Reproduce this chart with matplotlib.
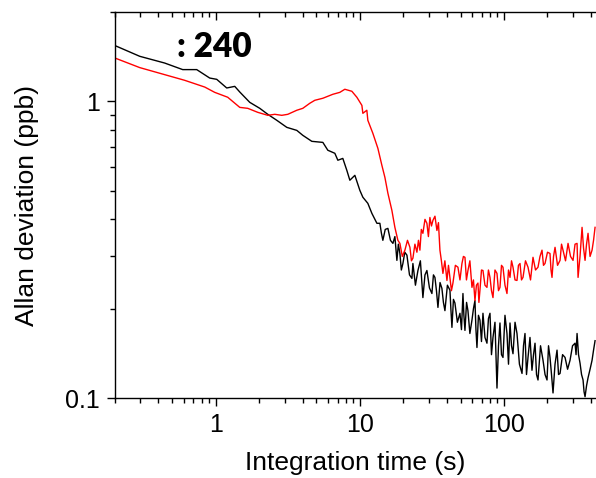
import matplotlib
matplotlib.use("Agg")
import matplotlib.pyplot as plt
from matplotlib.ticker import LogLocator, NullFormatter, FixedLocator, FixedFormatter

plt.rcParams['font.family'] = ['Liberation Sans', 'DejaVu Sans']

# Allan deviation, black trace (tau in s, adev in ppb)
tau_black = [0.2, 0.297, 0.442, 0.590, 0.738, 0.908, 1.016, 1.192, 1.355, 1.468,
             1.722, 2.021, 2.297, 2.652, 3.112, 3.652, 4.019, 4.642, 5.536, 5.995,
             6.706, 7.035, 7.617, 8.123, 8.522, 9.233, 10.0, 10.49, 11.36, 12.12,
             13.13, 13.77, 14.1, 14.44, 15.0, 15.65, 16.3, 16.96, 17.5, 18.07,
             18.5, 18.96, 19.4, 19.89, 20.5, 21.21, 22.1, 22.97, 23.34, 24.3,
             25.29, 26.3, 27.38, 28.3, 29.19, 30.4, 31.62, 32.4, 33.18, 34.0,
             34.82, 36.0, 37.10, 38.0, 38.93, 40.5, 42.17, 42.8, 43.54, 44.6,
             45.67, 47.5, 49.49, 50.7, 51.92, 52.7, 53.61, 55.0, 56.23, 58.0,
             59.95, 61.4, 62.89, 63.9, 64.94, 66.5, 68.13, 69.8, 71.48, 73.8,
             76.19, 78.0, 79.96, 81.9, 83.89, 86.6, 89.42, 91.6, 93.80, 96.1,
             98.42, 101.6, 104.9, 107.5, 110.1, 112.8, 115.5, 119.3, 123.1, 128.0,
             133.4, 136.6, 139.9, 143.3, 146.8, 151.5, 156.4, 160.3, 164.2, 168.2,
             172.2, 179.3, 186.6, 192.7, 198.9, 203.7, 208.6, 213.7, 218.9, 226.0,
             233.4, 239.1, 244.9, 255.0, 265.3, 276.2, 287.3, 299.0, 311.3, 316.3,
             321.4, 329.0, 337.1, 345.3, 353.7, 359.4, 365.2, 374.0, 383.1, 395.6,
             408.4, 418.3, 428.5]
adev_black = [1.541, 1.418, 1.346, 1.279, 1.279, 1.198, 1.186, 1.109, 1.123, 1.075,
              0.992, 0.947, 0.904, 0.863, 0.817, 0.798, 0.768, 0.733, 0.727, 0.684,
              0.668, 0.633, 0.642, 0.585, 0.542, 0.563, 0.501, 0.475, 0.453, 0.419,
              0.388, 0.388, 0.36, 0.340, 0.37, 0.373, 0.34, 0.332, 0.35, 0.291,
              0.33, 0.307, 0.27, 0.284, 0.31, 0.303, 0.26, 0.253, 0.284, 0.24,
              0.269, 0.29, 0.218, 0.26, 0.269, 0.235, 0.225, 0.26, 0.255, 0.23,
              0.202, 0.245, 0.234, 0.21, 0.197, 0.24, 0.231, 0.2, 0.173, 0.215,
              0.209, 0.18, 0.193, 0.17, 0.225, 0.19, 0.169, 0.21, 0.197, 0.165,
              0.183, 0.2, 0.213, 0.17, 0.148, 0.19, 0.183, 0.155, 0.193, 0.16,
              0.153, 0.185, 0.193, 0.14, 0.160, 0.18, 0.108, 0.15, 0.179, 0.14,
              0.137, 0.19, 0.165, 0.13, 0.179, 0.15, 0.141, 0.18, 0.165, 0.13,
              0.121, 0.15, 0.165, 0.12, 0.137, 0.16, 0.124, 0.14, 0.153, 0.12,
              0.115, 0.15, 0.134, 0.12, 0.115, 0.15, 0.137, 0.12, 0.104, 0.13,
              0.145, 0.12, 0.121, 0.14, 0.137, 0.125, 0.134, 0.15, 0.153, 0.14,
              0.165, 0.14, 0.131, 0.12, 0.115, 0.105, 0.101, 0.11, 0.117, 0.125,
              0.134, 0.145, 0.156]

# Allan deviation, red trace
tau_red = [0.2, 0.297, 0.442, 0.609, 0.839, 0.984, 1.211, 1.468, 1.668, 1.957,
           2.297, 2.569, 2.873, 3.162, 3.652, 4.019, 4.496, 4.870, 5.536, 6.494,
           7.262, 7.866, 8.801, 9.532, 10.33, 10.49, 11.18, 11.36, 12.31, 13.34,
           14.21, 14.92, 15.65, 16.68, 17.50, 18.36, 18.96, 19.7, 20.54, 21.4,
           22.25, 22.8, 23.34, 24.1, 24.88, 25.5, 26.10, 26.7, 27.38, 28.3,
           29.19, 29.9, 30.62, 31.4, 32.14, 33.2, 34.25, 35.1, 35.94, 36.8,
           37.70, 38.9, 40.20, 41.2, 42.17, 43.2, 44.24, 46.0, 47.92, 49.5,
           51.09, 52.3, 53.61, 54.9, 56.23, 58.0, 59.95, 61.4, 62.89, 64.4,
           65.99, 67.0, 68.13, 69.8, 71.48, 73.8, 76.19, 78.0, 79.96, 81.9,
           83.89, 86.6, 89.42, 91.6, 93.80, 96.1, 98.42, 101.6, 104.9, 107.5,
           110.1, 112.8, 115.5, 119.3, 123.1, 126.0, 129.2, 132.3, 135.5, 141.0,
           146.8, 152.8, 159.0, 165.5, 172.2, 177.8, 183.6, 188.0, 192.6, 200.4,
           208.6, 212.0, 215.4, 220.7, 226.1, 235.3, 244.9, 250.8, 256.8, 267.3,
           278.3, 289.6, 301.4, 311.2, 321.4, 326.6, 337.0, 348.1, 356.5, 365.2,
           374.0, 383.1, 395.6, 408.4, 418.3, 428.5]
adev_red = [1.399, 1.299, 1.230, 1.177, 1.117, 1.072, 1.032, 0.954, 0.947, 0.918,
            0.897, 0.904, 0.897, 0.904, 0.933, 0.947, 0.985, 1.008, 1.024, 1.056,
            1.072, 1.098, 1.081, 1.032, 0.969, 0.911, 0.933, 0.863, 0.780, 0.694,
            0.609, 0.554, 0.490, 0.429, 0.376, 0.340, 0.332, 0.30, 0.315, 0.34,
            0.322, 0.29, 0.296, 0.33, 0.310, 0.34, 0.315, 0.37, 0.359, 0.40,
            0.388, 0.35, 0.406, 0.38, 0.397, 0.41, 0.367, 0.39, 0.315, 0.29,
            0.263, 0.29, 0.249, 0.28, 0.255, 0.23, 0.244, 0.28, 0.276, 0.25,
            0.284, 0.30, 0.298, 0.25, 0.269, 0.29, 0.236, 0.25, 0.213, 0.24,
            0.244, 0.21, 0.231, 0.27, 0.269, 0.24, 0.236, 0.27, 0.255, 0.23,
            0.218, 0.27, 0.263, 0.23, 0.236, 0.28, 0.276, 0.24, 0.225, 0.27,
            0.255, 0.29, 0.276, 0.25, 0.249, 0.28, 0.284, 0.25, 0.255, 0.29,
            0.276, 0.25, 0.298, 0.27, 0.276, 0.30, 0.315, 0.28, 0.284, 0.31,
            0.307, 0.27, 0.255, 0.30, 0.322, 0.28, 0.291, 0.33, 0.315, 0.29,
            0.332, 0.30, 0.291, 0.33, 0.332, 0.255, 0.30, 0.376, 0.32, 0.291,
            0.33, 0.359, 0.30, 0.315, 0.34, 0.376]

x_ticks = [1, 10, 100]
x_tick_labels = ['1', '10', '100']
y_ticks = [0.1, 1]
y_tick_labels = ['0.1', '1']

fig = plt.figure(figsize=(5.96, 4.78), dpi=100)
ax = fig.add_axes([115 / 596, 80 / 478, 481 / 596, 386 / 478])

ax.plot(tau_black, adev_black, color='black', lw=1.0)
ax.plot(tau_red, adev_red, color='red', lw=1.0)

ax.set_xscale('log')
ax.set_yscale('log')
ax.set_xlim(0.2, 435)
ax.set_ylim(0.1, 2.0)

ax.xaxis.set_major_locator(FixedLocator(x_ticks))
ax.xaxis.set_major_formatter(FixedFormatter(x_tick_labels))
ax.xaxis.set_minor_locator(LogLocator(base=10, subs=range(2, 10), numticks=20))
ax.xaxis.set_minor_formatter(NullFormatter())
ax.yaxis.set_major_locator(FixedLocator(y_ticks))
ax.yaxis.set_major_formatter(FixedFormatter(y_tick_labels))
ax.yaxis.set_minor_locator(LogLocator(base=10, subs=range(2, 10), numticks=20))
ax.yaxis.set_minor_formatter(NullFormatter())

for s in ['left', 'bottom', 'top']:
    ax.spines[s].set_linewidth(1.0)
ax.spines['right'].set_visible(False)

ax.tick_params(axis='both', which='major', length=6, width=1.0, labelsize=18, pad=5)
ax.tick_params(axis='both', which='minor', length=3.5, width=1.0)
ax.tick_params(axis='x', which='both', top=True, direction='out')
ax.tick_params(axis='y', which='both', direction='out')

# mirrored top ticks point inward
for t in ax.xaxis.get_major_ticks() + ax.xaxis.get_minor_ticks():
    t.tick2line.set_marker(3)

ax.set_xlabel('Integration time (s)', fontsize=19, labelpad=10)
ax.set_ylabel('Allan deviation (ppb)', fontsize=19, labelpad=19)

fig.text(177 / 596, 1 - 57 / 478, ': 240', fontsize=24, fontweight='heavy',
         family=['Lato', 'DejaVu Sans'], ha='left', va='baseline')

fig.savefig('out.png', dpi=100)
